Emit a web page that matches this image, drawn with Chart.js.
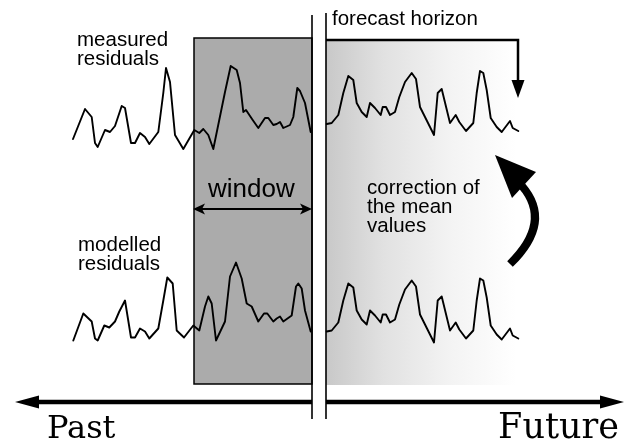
<!DOCTYPE html>
<html>
<head>
<meta charset="utf-8">
<script src="https://cdn.jsdelivr.net/npm/chart.js@4/dist/chart.umd.min.js"></script>
<style>
html,body{margin:0;padding:0;background:#fff;}
canvas{display:block;}
</style>
</head>
<body>
<canvas id="c" width="625" height="442" style="width:625px;height:442px"></canvas>
<script>
// ---- data (time index, residual value) ----
const measuredPastTime = [73,85,91.7,95,97.7,105,110,115,121.7,125,131,135,140,145,149.3,158.3,163.3,166,170,175,183.3,194.3,199.3,203.3,208.3,213.3,225,230.7,236.7,240,243.3,246,252.7,258.3,265,268.3,273.3,276.7,280,283.3,290,293.3,297.3,300,305,310.7];
const measuredPast = [21,51,43,17,13,30,28,34,54,52,17,17,27,23,16,28,67,92,78,25,11,30,27,31,25,11,68,94,90,77,48,50,40,32,42,42,35,36,38,32,35,43,72,69,57,28];

const modelledPastTime = [73.3,83.3,91.7,95,97.7,104.3,109.3,115,119.3,125,131,135,140,145,149.3,158.3,163.3,167.3,172.7,176.7,184,193.3,199.3,205,208.3,211.7,216,225,230,236,241.7,246.7,251.7,258.3,264,267.3,273.3,276.7,280,283.3,291.7,296,298.3,301.7,305,310.7];
const modelledPast = [27,54,46,29,27,42,40,46,56,67,30,30,39,36,29,39,67,90,84,37,30,42,37,61,71,64,27,46,91,105,89,64,61,46,54,54,46,49,51,46,52,81,84,79,57,36];

const futureTime = [326.7,331.7,338.3,343.3,348.3,353.3,356.7,361.7,366.7,370,375,380.7,382.7,386,390,395,399.3,405,411.7,416,420,425,434,437.7,441.7,450,455.7,459.3,466,473.3,476.7,480,483.3,486.7,490.7,496.7,501.7,510,512.7,518.3];
const forecast = [36,37,45,67,84,80,57,48,43,57,52,45,53,53,45,48,63,78,87,81,53,43,25,67,71,37,45,38,29,37,67,89,87,70,42,33,28,39,32,29];

const textLabels = {
  measured: ["measured", "residuals"],
  modelled: ["modelled", "residuals"],
  horizon: "forecast horizon",
  window: "window",
  correction: ["correction of", "the mean", "values"],
  past: "Past",
  future: "Future"
};

// ---- layout (time / value units of the scales) ----
const L = {
  windowStart: 194, windowEnd: 312, nowLeft: 312, nowRight: 326, horizonEnd: 518
};

function pts(t, v){ return t.map((x,i)=>({x:x, y:v[i]})); }

const lineStyle = {borderColor:'#000', borderWidth:1.9, borderJoinStyle:'round', borderCapStyle:'round', pointRadius:0, tension:0, fill:false};

const deco = {
  id:'deco',
  beforeDatasetsDraw(chart){
    const c = chart.ctx, xs = chart.scales.x;
    const wx0 = xs.getPixelForValue(L.windowStart), wx1 = xs.getPixelForValue(L.windowEnd);
    const fx0 = xs.getPixelForValue(L.nowRight), fx1 = xs.getPixelForValue(L.horizonEnd);
    c.save();
    // forecast gradient area
    const g = c.createLinearGradient(fx0,0,fx0+190,0);
    g.addColorStop(0,'rgb(200,200,200)');
    g.addColorStop(0.3,'rgb(225,225,225)');
    g.addColorStop(0.65,'rgb(243,243,243)');
    g.addColorStop(1,'rgb(255,255,255)');
    c.fillStyle = g;
    c.fillRect(fx0, 40, fx1+4-fx0, 345);
    // window rectangle
    c.fillStyle = '#ababab';
    c.fillRect(wx0, 38, wx1-wx0, 346);
    c.strokeStyle = '#000'; c.lineWidth = 1.5;
    c.strokeRect(wx0, 38, wx1-wx0, 346);
    c.restore();
  },
  afterDatasetsDraw(chart){
    const c = chart.ctx, xs = chart.scales.x;
    const nl = xs.getPixelForValue(L.nowLeft), nr = xs.getPixelForValue(L.nowRight);
    const wx0 = xs.getPixelForValue(L.windowStart), wx1 = xs.getPixelForValue(L.windowEnd);
    const he = xs.getPixelForValue(L.horizonEnd);
    c.save();
    c.strokeStyle = '#000'; c.fillStyle = '#000';
    // now lines
    c.lineWidth = 1.6;
    c.beginPath(); c.moveTo(nl,15); c.lineTo(nl,419); c.stroke();
    c.beginPath(); c.moveTo(nr,13); c.lineTo(nr,419); c.stroke();
    // forecast horizon arrow
    c.lineWidth = 2.5;
    c.beginPath(); c.moveTo(nr,40); c.lineTo(he,40); c.lineTo(he,84); c.stroke();
    c.beginPath(); c.moveTo(he-6.5,80); c.lineTo(he+6.5,80); c.lineTo(he,98); c.closePath(); c.fill();
    // window double arrow
    c.lineWidth = 2;
    c.beginPath(); c.moveTo(wx0+4,209); c.lineTo(wx1-4,209); c.stroke();
    c.beginPath(); c.moveTo(wx0-1,209); c.lineTo(wx0+11,203.5); c.lineTo(wx0+8,209); c.lineTo(wx0+11,214.5); c.closePath(); c.fill();
    c.beginPath(); c.moveTo(wx1,209); c.lineTo(wx1-12,203.5); c.lineTo(wx1-9,209); c.lineTo(wx1-12,214.5); c.closePath(); c.fill();
    // past / future arrow
    c.lineWidth = 4.5;
    c.beginPath(); c.moveTo(34,402); c.lineTo(nl,402); c.stroke();
    c.beginPath(); c.moveTo(nr,402); c.lineTo(605,402); c.stroke();
    c.beginPath(); c.moveTo(15,402); c.lineTo(39,395.5); c.lineTo(39,408.5); c.closePath(); c.fill();
    c.beginPath(); c.moveTo(624,402); c.lineTo(600,395.5); c.lineTo(600,408.5); c.closePath(); c.fill();
    // curved correction arrow
    c.lineWidth = 8; c.lineCap = 'butt';
    c.beginPath(); c.moveTo(510,264); c.quadraticCurveTo(553,222,522,186); c.stroke();
    c.beginPath(); c.moveTo(495,155); c.lineTo(536,172); c.lineTo(512,198); c.closePath(); c.fill();
    // texts
    c.textBaseline = 'alphabetic'; c.textAlign = 'left';
    c.font = '20.5px "Liberation Sans", Arial, sans-serif';
    c.fillText(textLabels.measured[0], 77, 46);
    c.fillText(textLabels.measured[1], 77, 64.5);
    c.fillText(textLabels.modelled[0], 78, 251);
    c.fillText(textLabels.modelled[1], 78, 269.5);
    c.fillText(textLabels.horizon, 332, 25);
    c.fillText(textLabels.correction[0], 367, 193.5);
    c.fillText(textLabels.correction[1], 367, 213);
    c.fillText(textLabels.correction[2], 367, 232);
    c.font = '26px "Liberation Sans", Arial, sans-serif';
    c.fillText(textLabels.window, 208, 197);
    c.font = '32px "DejaVu Serif", serif';
    c.fillText(textLabels.past, 47, 437.5);
    c.textAlign = 'right';
    c.font = '35px "DejaVu Serif", serif';
    c.fillText(textLabels.future, 619, 437.5);
    c.restore();
  }
};

new Chart(document.getElementById('c'), {
  type: 'line',
  data: {
    datasets: [
      Object.assign({label:'measured (past)', data: pts(measuredPastTime, measuredPast), yAxisID:'y'}, lineStyle),
      Object.assign({label:'measured (future)', data: pts(futureTime, forecast), yAxisID:'y'}, lineStyle),
      Object.assign({label:'modelled (past)', data: pts(modelledPastTime, modelledPast), yAxisID:'y2'}, lineStyle),
      Object.assign({label:'modelled (future)', data: pts(futureTime, forecast), yAxisID:'y2'}, lineStyle)
    ]
  },
  options: {
    responsive: false,
    animation: false,
    devicePixelRatio: 1,
    layout: {padding: 0},
    plugins: {legend: {display:false}, tooltip: {enabled:false}},
    scales: {
      x: {type:'linear', min:0, max:625, display:false},
      y: {min:-282, max:160, display:false},
      y2: {min:-74.5, max:367.5, display:false, position:'right'}
    }
  },
  plugins: [deco]
});
</script>
</body>
</html>
